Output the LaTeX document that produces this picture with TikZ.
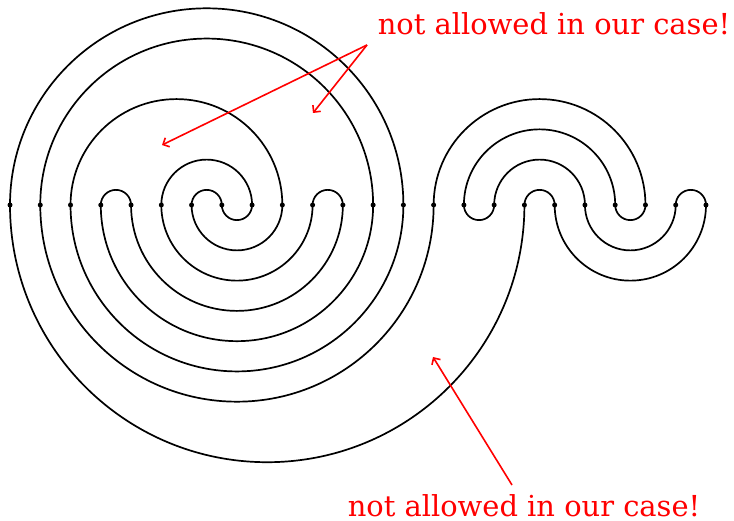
\documentclass[tikz,border=0pt]{standalone}
\usepackage{fontspec}
\setmainfont{DejaVu Serif}
\usetikzlibrary{arrows.meta}
\tikzset{
  arcline/.style={line width=1.7pt, black},
  dotnode/.style={circle, fill=black, inner sep=0pt, minimum size=5pt},
  note/.style={text=red, font=\fontsize{28.9}{34}\selectfont, anchor=base, inner sep=0pt},
  notearrow/.style={red, line width=1.6pt, -{Straight Barb[length=5pt,width=10pt]}}
}
\begin{document}
\begin{tikzpicture}[x=1pt,y=1pt]
\useasboundingbox (0,-316) rectangle (734,205);
% points on the line
\foreach \i in {0,...,23} {
  \coordinate (p\i) at ({10+30.26*\i},0);
}
% upper arcs
\foreach \a/\b in {0/13,1/12,2/9,3/4,5/8,6/7,10/11,14/21,15/20,16/19,17/18,22/23} {
  \pgfmathsetmacro\r{15.13*(\b-\a)}
  \draw[arcline] (p\a) arc[start angle=180, end angle=0, radius=\r pt];
}
% lower arcs
\foreach \a/\b in {0/17,1/14,2/13,3/12,4/11,5/10,6/9,7/8,15/16,18/23,19/22,20/21} {
  \pgfmathsetmacro\r{15.13*(\b-\a)}
  \draw[arcline] (p\a) arc[start angle=180, end angle=360, radius=\r pt];
}
% dots
\foreach \i in {0,...,23} {
  \node[dotnode] (d\i) at (p\i) {};
}
% notes
\node[note] (t1) at (554,170) {not allowed in our case!};
\node[note] (t2) at (524,-312) {not allowed in our case!};
\coordinate (s1) at (367,160);
\coordinate (e1) at (162,60);
\coordinate (e2) at (313,92);
\coordinate (s2) at (512,-280);
\coordinate (e3) at (433,-152);
\draw[notearrow] (s1) -- (e1);
\draw[notearrow] (s1) -- (e2);
\draw[notearrow] (s2) -- (e3);
\end{tikzpicture}
\end{document}
